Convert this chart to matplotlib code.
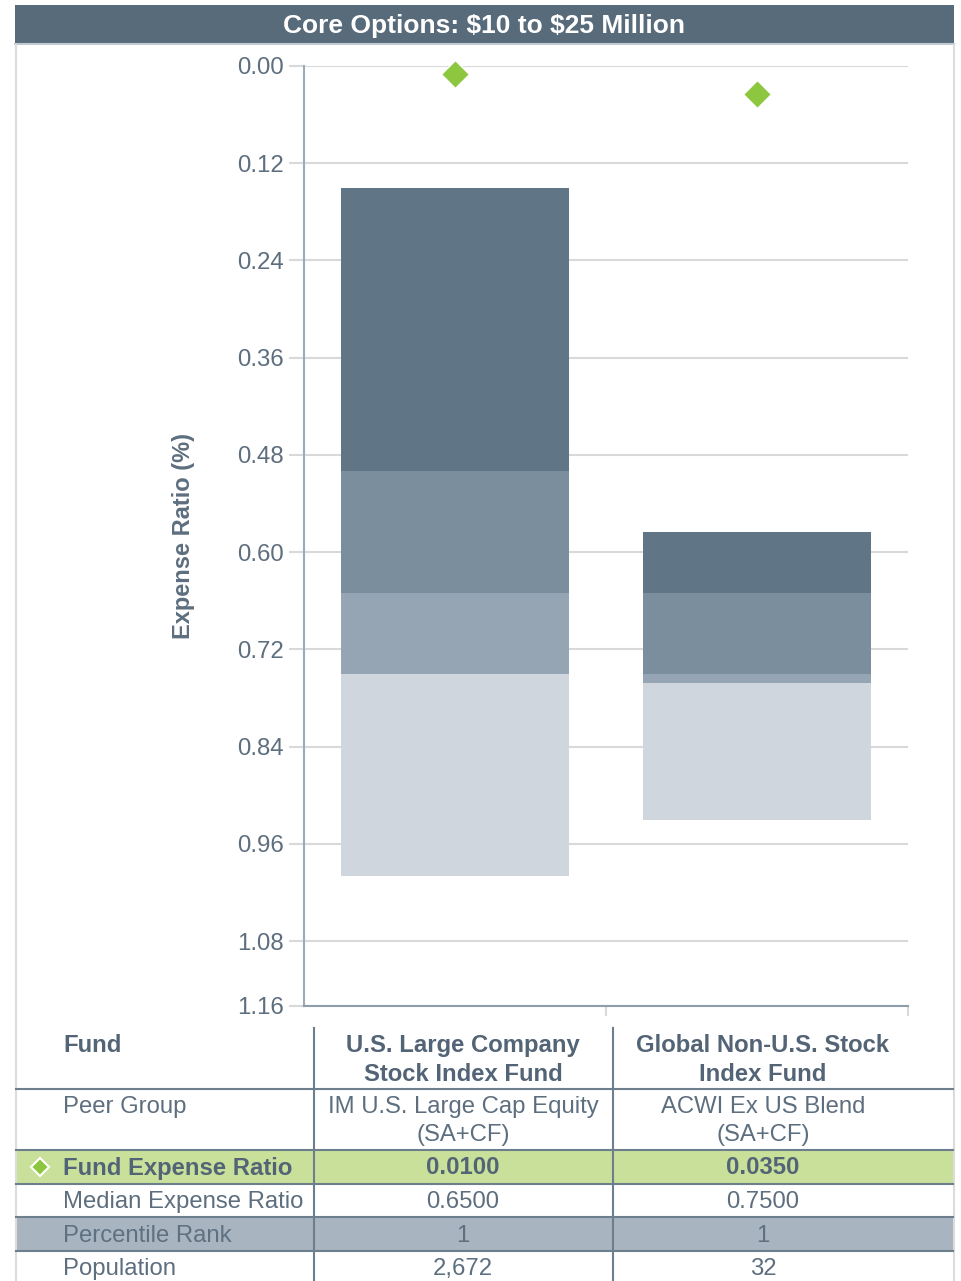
import matplotlib
matplotlib.use("Agg")
import numpy as np
from matplotlib import pyplot as plt
from matplotlib.patches import Rectangle
from matplotlib.lines import Line2D

plt.rcParams['font.family'] = ['Liberation Sans', 'DejaVu Sans']

title = "Core Options: \\$10 to \\$25 Million"
funds = ["U.S. Large Company\nStock Index Fund", "Global Non-U.S. Stock\nIndex Fund"]
peer_groups = ["IM U.S. Large Cap Equity\n(SA+CF)", "ACWI Ex US Blend\n(SA+CF)"]

# percentile boundaries of the peer group expense ratios (%)
p05 = [0.15, 0.575]
p25 = [0.50, 0.65]
p50 = [0.65, 0.75]
p75 = [0.75, 0.762]
p95 = [1.00, 0.93]
fund_er = [0.0100, 0.0350]
median_er = [0.6500, 0.7500]
pct_rank = [1, 1]
population = [2672, 32]

y_ticks = [0.00, 0.12, 0.24, 0.36, 0.48, 0.60, 0.72, 0.84, 0.96, 1.08, 1.16]

W, H = 961, 1281
DARK = "#536476"
TXT = "#5d6e7e"
band_colors = ["#607586", "#7a8e9e", "#96a5b3", "#cfd6de"]


def fx(x):
    return x / W


def fy(y):
    return 1 - y / H


fig = plt.figure(figsize=(W / 100, H / 100), dpi=100)

# header and frame
fig.patches.append(Rectangle((fx(15), fy(43)), fx(939), 38 / H, transform=fig.transFigure,
                             facecolor="#586b7b", edgecolor="none"))
fig.lines.append(Line2D([fx(15), fx(954)], [fy(44), fy(44)], transform=fig.transFigure,
                        color="#c3cbd2", lw=1.5))
fig.text(fx(484), fy(26), title, ha="center", va="center", color="white",
         fontsize=19, fontweight="bold")
for xx in (15.5, 953.5):
    fig.lines.append(Line2D([fx(xx), fx(xx)], [fy(45), 0], transform=fig.transFigure,
                            color="#dcdcdc", lw=1.5))

# chart
ax = fig.add_axes([fx(304), fy(1006), 604 / W, 940 / H])
x = np.arange(len(funds))
lows = [p05, p25, p50, p75]
highs = [p25, p50, p75, p95]
for lo, hi, c in zip(lows, highs, band_colors):
    ax.bar(x, np.array(hi) - np.array(lo), bottom=lo, width=0.755, color=c, zorder=2)
ax.plot(x, fund_er, linestyle="none", marker="D", markersize=14,
        color="#8dc63f", markeredgecolor="white", markeredgewidth=1, zorder=3, clip_on=False)

ax.set_xlim(-0.5, 1.5)
ax.set_ylim(1.16, 0)
ax.set_yticks(y_ticks)
ax.set_yticklabels([f"{v:.2f}" for v in y_ticks])
ax.set_xticks([0.5, 1.5])
ax.set_xticklabels([])
ax.grid(axis="y", color="#d9d9d9", lw=1.5, zorder=0)
ax.tick_params(axis="y", length=11, width=1.5, color="#d9d9d9", labelsize=17.3,
               labelcolor=TXT, pad=3.5)
ax.tick_params(axis="x", direction="out", length=7, width=1.5, color="#d9d9d9")
for s in ("top", "right"):
    ax.spines[s].set_visible(False)
ax.spines["left"].set_color("#9eabb7")
ax.spines["left"].set_linewidth(1.5)
ax.spines["bottom"].set_color("#8e9eac")
ax.spines["bottom"].set_linewidth(1.5)
ax.set_ylabel("Expense Ratio (%)", fontsize=17, fontweight="bold", color=TXT, labelpad=30)

# table
fig.patches.append(Rectangle((fx(16), fy(1184)), fx(937), 34 / H, transform=fig.transFigure,
                             facecolor="#c9e09b", edgecolor="none"))
fig.patches.append(Rectangle((fx(16), fy(1251)), fx(937), 34 / H, transform=fig.transFigure,
                             facecolor="#a8b4bf", edgecolor="none"))
for yy in (1089, 1150, 1184, 1217, 1251):
    fig.lines.append(Line2D([fx(16), fx(953)], [fy(yy), fy(yy)], transform=fig.transFigure,
                            color="#6d7e8c", lw=1.5))
for xx in (314, 613):
    fig.lines.append(Line2D([fx(xx), fx(xx)], [fy(1028), 0], transform=fig.transFigure,
                            color="#6d7e8c", lw=1.5))

col_x = [463, 763]
lab_x = 63
fs = 17.2
fig.text(fx(lab_x), fy(1046), "Fund", ha="left", va="center", color=DARK, fontsize=fs,
         fontweight="bold")
fig.text(fx(lab_x), fy(1107), "Peer Group", ha="left", va="center", color=TXT, fontsize=fs)
fig.text(fx(lab_x), fy(1168), "Fund Expense Ratio", ha="left", va="center", color=DARK,
         fontsize=fs, fontweight="bold")
fig.text(fx(lab_x), fy(1202), "Median Expense Ratio", ha="left", va="center", color=TXT,
         fontsize=fs)
fig.text(fx(lab_x), fy(1236), "Percentile Rank", ha="left", va="center", color="#5f7080",
         fontsize=fs)
fig.text(fx(lab_x), fy(1269), "Population", ha="left", va="center", color=TXT, fontsize=fs)
fig.lines.append(Line2D([fx(40)], [fy(1167)], transform=fig.transFigure, marker="D",
                        markersize=9, color="#8dc63f", markeredgecolor="white",
                        markeredgewidth=1.5, linestyle="none"))

for i, cx in enumerate(col_x):
    fig.text(fx(cx), fy(1060), funds[i], ha="center", va="center", color=DARK, fontsize=fs,
             fontweight="bold", linespacing=1.3)
    fig.text(fx(cx), fy(1121), peer_groups[i], ha="center", va="center", color=TXT,
             fontsize=fs, linespacing=1.3)
    fig.text(fx(cx), fy(1168), f"{fund_er[i]:.4f}", ha="center", va="center", color=DARK,
             fontsize=fs, fontweight="bold")
    fig.text(fx(cx), fy(1202), f"{median_er[i]:.4f}", ha="center", va="center", color=TXT,
             fontsize=fs)
    fig.text(fx(cx), fy(1236), str(pct_rank[i]), ha="center", va="center", color="#5f7080",
             fontsize=fs)
    fig.text(fx(cx), fy(1269), f"{population[i]:,}", ha="center", va="center", color=TXT,
             fontsize=fs)

fig.savefig("out.png", dpi=100, facecolor="white")
